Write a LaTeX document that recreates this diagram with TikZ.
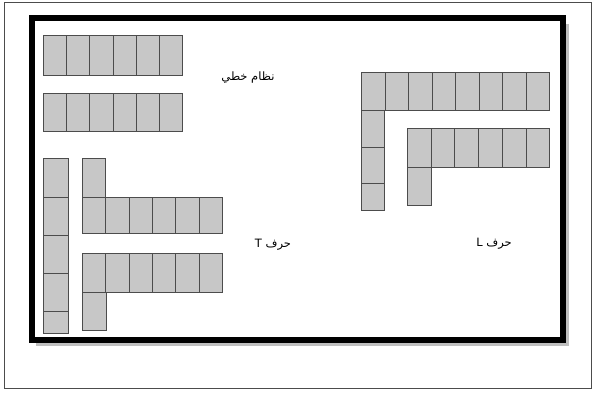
\documentclass[tikz,border=0pt]{standalone}
\usepackage{fontspec}
\newfontfamily\arabicfont[Script=Arabic]{DejaVu Sans}
\TeXXeTstate=1
\begin{document}
\begin{tikzpicture}[
    x=1pt, y=-1pt,
    % one gray square of the pattern
    cell/.style={
        rectangle,
        draw=black!70,
        fill=black!22,
        line width=0.7pt,
        anchor=north west,
        inner sep=0pt,
        },
    label/.style={
        font=\arabicfont\fontsize{11.5}{13}\selectfont,
        inner sep=0pt,
        },
    ]
    \useasboundingbox (0,0) rectangle (595,392);
    \draw [black!70, line width=0.8pt] (4,2) rectangle (591,388);
    % frame with its shadow
    \fill [black!25] (36,24) rectangle (569,346);
    \draw [line width=6pt, fill=white] (32,18) rectangle (563,340);

    % linear layout
    \foreach \i in {0,...,5} {
        \node [cell, minimum width=23.2pt, minimum height=40pt] (a\i) at (43+23.2*\i,35) {};
        \node [cell, minimum width=23.2pt, minimum height=38pt] (b\i) at (43+23.2*\i,93) {};
    }
    \node [label] (linear) at (248,78) {\beginR نظام خطي\endR};

    % T shapes
    \foreach \y/\h [count=\i] in {158/39,197/38,235/38,273/38,311/22}
        \node [cell, minimum width=25pt, minimum height=\h pt] (v\i) at (43,\y) {};
    \node [cell, minimum width=23.2pt, minimum height=39pt] (t0) at (82,158) {};
    \foreach \i in {0,...,5} {
        \node [cell, minimum width=23.3pt, minimum height=36pt] (c\i) at (82+23.3*\i,197) {};
        \node [cell, minimum width=23.3pt, minimum height=39pt] (d\i) at (82+23.3*\i,253) {};
    }
    \node [cell, minimum width=24pt, minimum height=38pt] (u0) at (82,292) {};
    \node [label] (letterT) at (273,245) {\beginR حرف \beginL T\endL\endR};

    % L shapes
    \foreach \i in {0,...,7}
        \node [cell, minimum width=23.5pt, minimum height=38pt] (e\i) at (361+23.5*\i,72) {};
    \foreach \y/\h [count=\i] in {110/37,147/36,183/27}
        \node [cell, minimum width=23pt, minimum height=\h pt] (w\i) at (361,\y) {};
    \foreach \i in {0,...,5}
        \node [cell, minimum width=23.7pt, minimum height=39pt] (f\i) at (407+23.7*\i,128) {};
    \node [cell, minimum width=24pt, minimum height=38pt] (g0) at (407,167) {};
    \node [label] (letterL) at (494,244) {\beginR حرف \beginL L\endL\endR};

\end{tikzpicture}
\end{document}
